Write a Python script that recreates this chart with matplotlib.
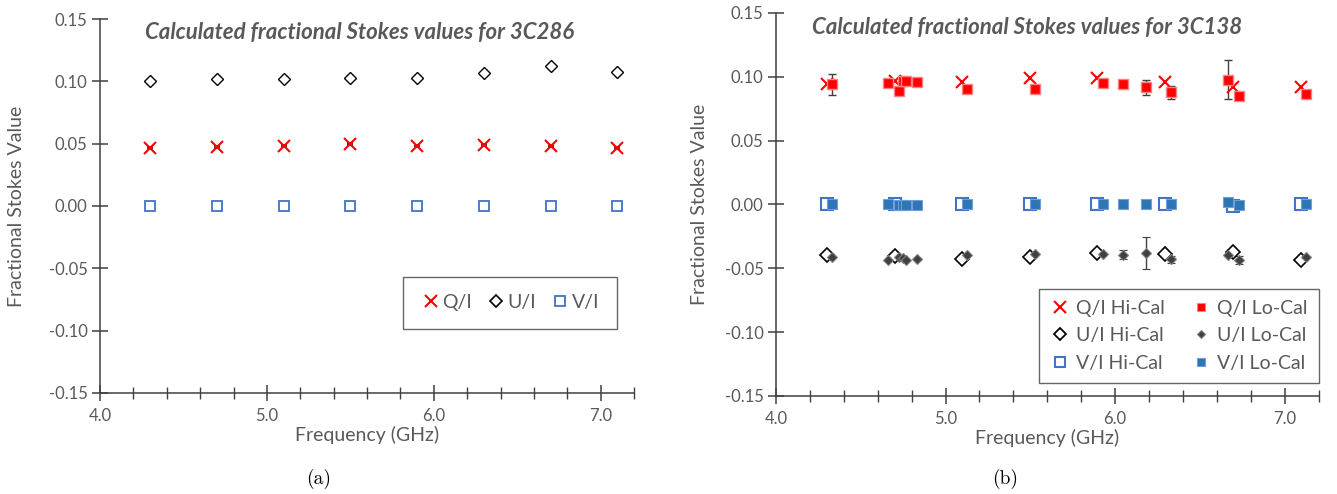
import matplotlib
matplotlib.use("Agg")
import matplotlib.pyplot as plt
from matplotlib.ticker import MultipleLocator, FuncFormatter
from matplotlib.lines import Line2D

plt.rcParams['font.family'] = ['Lato', 'DejaVu Sans']
plt.rcParams['axes.unicode_minus'] = False

# ---- 3C286 (panel a) ----
freq_a = [4.3, 4.7, 5.1, 5.5, 5.9, 6.3, 6.7, 7.1]
q_a = [0.0469, 0.0472, 0.0485, 0.0496, 0.0485, 0.0488, 0.0482, 0.0464]
u_a = [0.1003, 0.1022, 0.1017, 0.1030, 0.1027, 0.1070, 0.1120, 0.1073]
v_a = [-0.0002, -0.0002, -0.0002, -0.0002, -0.0002, -0.0003, -0.0002, -0.0003]
q_a_err = [0.0006, 0.0006, 0.0006, 0.0006, 0.0006, 0.0006, 0.0006, 0.0008]
u_a_err = [0.0008, 0.0008, 0.0008, 0.0008, 0.0008, 0.0008, 0.0012, 0.0012]
v_a_err = [0.0004, 0.0004, 0.0004, 0.0004, 0.0004, 0.0005, 0.0005, 0.0008]

# ---- 3C138 (panel b) ----
freq_hi = [4.30, 4.70, 5.096, 5.499, 5.895, 6.296, 6.697, 7.096]
q_hi = [0.0945, 0.0971, 0.0956, 0.0990, 0.0992, 0.0958, 0.0924, 0.0919]
u_hi = [-0.0396, -0.0406, -0.0424, -0.0414, -0.0380, -0.0390, -0.0370, -0.0435]
v_hi = [0.0, 0.0, 0.0, 0.0, 0.0, 0.0, -0.0008, 0.0]

freq_lo = [4.328, 4.66, 4.728, 4.748, 4.764, 4.829, 5.129, 5.528,
           5.929, 6.048, 6.18, 6.329, 6.667, 6.728, 7.127]
q_lo = [0.0943, 0.0953, 0.0891, 0.0964, 0.0966, 0.0958, 0.0901, 0.0906,
        0.0953, 0.0943, 0.0917, 0.0878, 0.0979, 0.0849, 0.0867]
q_lo_err = [0.0082, 0.0, 0.0, 0.0, 0.0, 0.0, 0.0, 0.0,
            0.0, 0.0, 0.0061, 0.0048, 0.0151, 0.0, 0.0]
u_lo = [-0.0409, -0.0435, -0.0411, -0.0417, -0.0435, -0.0424, -0.0396, -0.0385,
        -0.0388, -0.0393, -0.0378, -0.0430, -0.0398, -0.0435, -0.0410]
u_lo_err = [0.0, 0.0, 0.0, 0.0, 0.0, 0.0, 0.0, 0.0,
            0.0, 0.0033, 0.0125, 0.0030, 0.0, 0.0030, 0.0]
v_lo = [0.0, 0.0, -0.0005, -0.0005, -0.0005, -0.0005, 0.0, 0.0,
        0.0, 0.0, 0.0, 0.0, 0.0018, -0.0005, 0.0]

yticks = [-0.15, -0.10, -0.05, 0.0, 0.05, 0.10, 0.15]
xticks = [4.0, 5.0, 6.0, 7.0]

RED = '#ff0000'
BLUE = '#4472c4'
BLUE_F = '#2e75b6'
DARK = '#404040'
GREY = '#595959'


def style_axes(ax, title, title_x, ylab_x):
    ax.set_xlim(4.0, 7.2)
    ax.set_ylim(-0.15, 0.15)
    ax.set_xticks(xticks)
    ax.xaxis.set_minor_locator(MultipleLocator(0.2))
    ax.set_yticks(yticks)
    ax.yaxis.set_major_formatter(FuncFormatter(lambda v, p: '%.2f' % v))
    ax.xaxis.set_major_formatter(FuncFormatter(lambda v, p: '%.1f' % v))
    for s in ['top', 'right']:
        ax.spines[s].set_visible(False)
    for s in ['left', 'bottom']:
        ax.spines[s].set_color(DARK)
        ax.spines[s].set_linewidth(1.1)
    ax.tick_params(axis='both', which='major', direction='inout', length=11,
                   width=1.1, color=DARK, labelcolor=GREY, labelsize=12)
    ax.tick_params(axis='x', which='minor', direction='inout', length=8,
                   width=1.0, color=DARK)
    ax.tick_params(axis='x', which='major', pad=5)
    ax.set_xlabel('Frequency (GHz)', color=GREY, fontsize=14, labelpad=2)
    ax.set_ylabel('Fractional Stokes Value', color=GREY, fontsize=14)
    ax.yaxis.set_label_coords(ylab_x, 0.5)
    ax.text(title_x, 0.963, title, transform=ax.transAxes, fontsize=16,
            fontweight='bold', fontstyle='italic', color=GREY, va='center')


def style_legend(leg):
    leg.get_frame().set_edgecolor(DARK)
    leg.get_frame().set_linewidth(1.0)
    for t in leg.get_texts():
        t.set_color(GREY)


fig = plt.figure(figsize=(13.37, 4.94), dpi=100)
ax1 = fig.add_axes([0.0748, 0.2045, 0.3994, 0.757])
ax2 = fig.add_axes([0.5804, 0.1984, 0.4058, 0.7753])

# panel a
ax1.errorbar(freq_a, q_a, yerr=q_a_err, fmt='x', color=RED, ms=8, mew=1.5,
             ecolor=DARK, elinewidth=0.8, capsize=2)
ax1.errorbar(freq_a, u_a, yerr=u_a_err, fmt='D', mfc='white', mec='black', ms=6.5,
             mew=1.0, ecolor=DARK, elinewidth=0.8, capsize=2)
ax1.errorbar(freq_a, v_a, yerr=v_a_err, fmt='s', mfc='white', mec=BLUE, ms=7.5,
             mew=1.3, ecolor=DARK, elinewidth=0.8, capsize=2)
style_axes(ax1, 'Calculated fractional Stokes values for 3C286', 0.084, -0.14)
hq = Line2D([], [], ls='none', marker='x', color=RED, ms=8, mew=1.5)
hu = Line2D([], [], ls='none', marker='D', mfc='white', mec='black', ms=6.5, mew=1.2)
hv = Line2D([], [], ls='none', marker='s', mfc='white', mec=BLUE, ms=7.5, mew=1.3)
leg1 = ax1.legend([hq, hu, hv], ['Q/I', 'U/I', 'V/I'], loc='lower left',
                  bbox_to_anchor=(0.568, 0.172, 0.4, 0.15),
                  ncol=3, fontsize=14, frameon=True, fancybox=False,
                  handletextpad=0.1, columnspacing=1.0, handlelength=1.0,
                  borderpad=0.9, mode='expand', borderaxespad=0.0)
style_legend(leg1)

# panel b
ax2.errorbar(freq_hi, q_hi, fmt='x', color=RED, ms=8, mew=1.5)
ax2.errorbar(freq_hi, u_hi, fmt='D', mfc='white', mec='black', ms=7, mew=1.2)
ax2.errorbar(freq_hi, v_hi, yerr=0.0004, fmt='s', mfc='white', mec=BLUE,
             ms=8, mew=1.5, ecolor=DARK, elinewidth=0.8, capsize=2)
ax2.errorbar(freq_lo, q_lo, yerr=q_lo_err, fmt='s', mfc=RED, mec='#ff8080',
             ms=7, mew=1.0, ecolor=DARK, elinewidth=1.0, capsize=3)
ax2.plot(freq_lo, q_lo, 'x', color='#c00000', ms=4, mew=0.8)
ax2.errorbar(freq_lo, u_lo, yerr=u_lo_err, fmt='D', mfc=DARK, mec='#808080',
             ms=5, mew=0.8, ecolor=DARK, elinewidth=1.0, capsize=3)
ax2.errorbar(freq_lo, v_lo, fmt='s', mfc=BLUE_F, mec='#6f9fd8', ms=7, mew=0.8)
style_axes(ax2, 'Calculated fractional Stokes values for 3C138', 0.066, -0.125)

handles_b = [
    Line2D([], [], ls='none', marker='x', color=RED, ms=8, mew=1.5),
    Line2D([], [], ls='none', marker='D', mfc='white', mec='black', ms=6.5, mew=1.3),
    Line2D([], [], ls='none', marker='s', mfc='white', mec=BLUE, ms=7.5, mew=1.5),
    Line2D([], [], ls='none', marker='s', mfc=RED, mec='#ff8080', ms=6, mew=0.8),
    Line2D([], [], ls='none', marker='D', mfc=DARK, mec='#808080', ms=4.5, mew=0.8),
    Line2D([], [], ls='none', marker='s', mfc=BLUE_F, mec='#6f9fd8', ms=6, mew=0.8),
]
labels_b = ['Q/I Hi-Cal', 'U/I Hi-Cal', 'V/I Hi-Cal',
            'Q/I Lo-Cal', 'U/I Lo-Cal', 'V/I Lo-Cal']
leg2 = ax2.legend(handles_b, labels_b, loc='lower left',
                  bbox_to_anchor=(0.485, 0.035, 0.515, 0.235), ncol=2,
                  fontsize=14, frameon=True, fancybox=False, mode='expand',
                  handletextpad=0.35, handlelength=1.0, borderpad=0.55,
                  labelspacing=0.55, borderaxespad=0.0)
style_legend(leg2)

fig.text(319 / 1337, 1 - 479 / 494, '(a)', family='cmr10', fontsize=14,
         ha='center', va='center')
fig.text(1005 / 1337, 1 - 479 / 494, '(b)', family='cmr10', fontsize=14,
         ha='center', va='center')

fig.savefig('out.png', dpi=100)
